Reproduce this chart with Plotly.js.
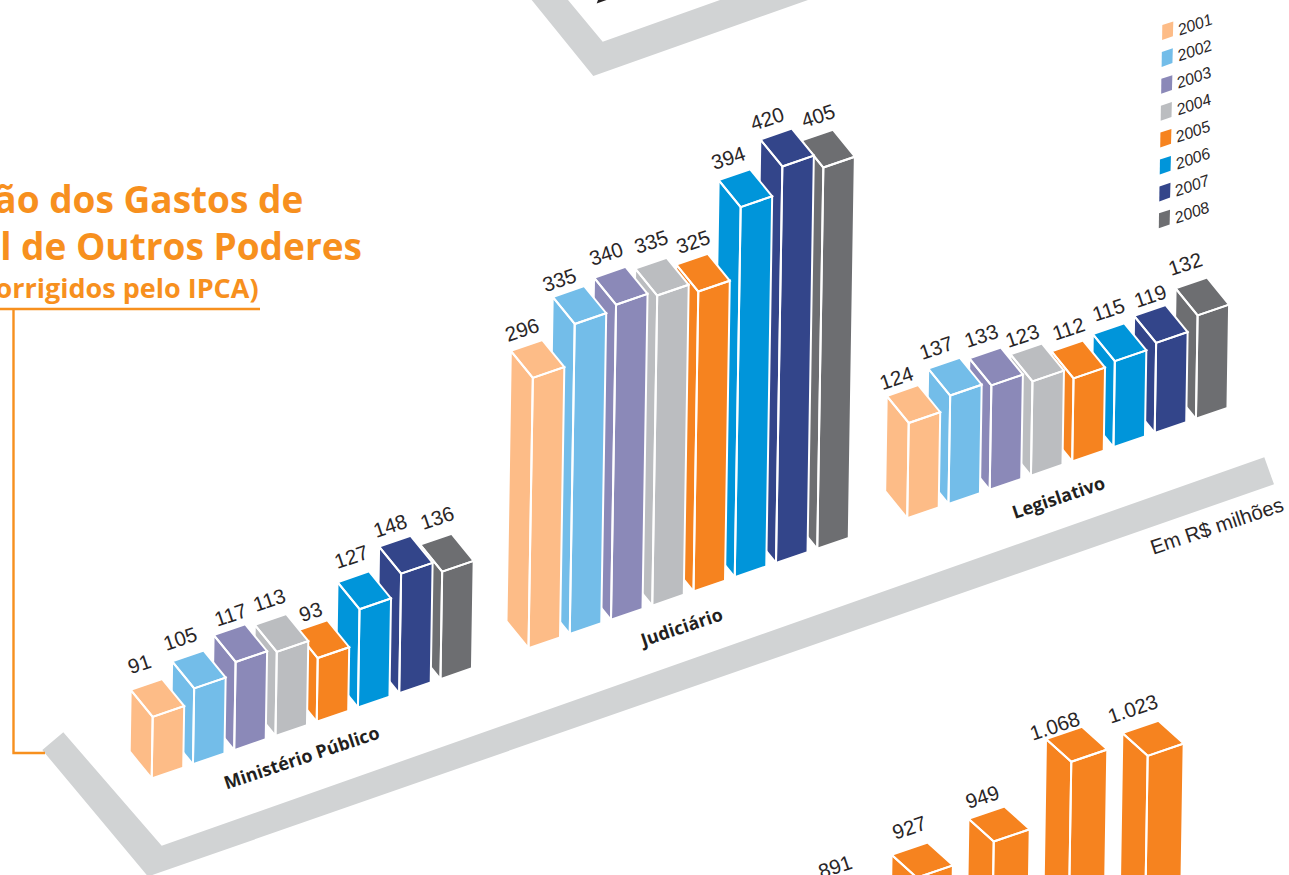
<!DOCTYPE html>
<html>
<head>
<meta charset="utf-8">
<script src="https://cdn.plot.ly/plotly-3.0.1.min.js"></script>
<style>html,body{margin:0;padding:0;background:#fff;overflow:hidden}#chart{width:1289px;height:875px}</style>
</head>
<body>
<div id="chart"></div>
<script>
// ---- data ----
const years = ['2001','2002','2003','2004','2005','2006','2007','2008'];
const ministerioPublico = [91,105,117,113,93,127,148,136];
const judiciario = [296,335,340,335,325,394,420,405];
const legislativo = [124,137,133,123,112,115,119,132];
const lowerPanelValues = [891,927,949,1068,1023];
const groupNames = ['Ministério Público','Judiciário','Legislativo'];
const yearColors = ['#FDBC87','#73BDE9','#8B89B8','#BBBDC0','#F6831F','#0095DA','#33458A','#6D6E71'];

// ---- projection constants ----
const W = 1289, H = 875;
const GREY = '#D1D3D4', ORANGE = '#F7901E', BARORANGE = '#F6831F', INK = '#2A2627';
const FONT = 'Liberation Sans, Arial, sans-serif';
const HEAVY = 'Open Sans, Liberation Sans, sans-serif';
const LEAN = 0.016, ANGLE = -18.5;
const upper = {stepX:41.25, stepY:-14.2, right:[31.5,-10.8], left:[-22,-27], scale:1.018, offset:-31};
const lower = {stepX:76.7, stepY:-26.2, right:[36,-12.3], left:[-25.3,-22.8], scale:0.45, offset:0};
const groupOrigins = [[151.7,778.5],[528.5,648.2],[907.2,518.2]];
const lowerOrigin = [833.5,1321];
const labelShift = [-6,-15.5];
const groupLabelPos = [[301.7,756.7],[680,626.7],[1058.3,496.7]];
// small hand placement of each value label, as in the original artwork
const groupLabelNudges = [
  [[-1,-5],[-2,-2],[7,0],[5,-4],[5,1],[4,-5],[1,0],[7,-6]],
  [[1,0],[-3,3],[2,-3],[6,-6],[7,-2],[0,-2],[-3,0],[7,-4]],
  [[0,2],[-2,0],[2,-2],[2,2],[7,-2],[6,-4],[7,1],[0,-4]]
];
const lowerLabelNudges = [[8,-9],[5,-6],[2,-1],[-3,8],[-2,-3]];

const traces = [], annotations = [];

function addBar(name, color, v, i, origin, g, nudge) {
  const h = g.scale * v + g.offset;
  const bx = origin[0] + i * g.stepX, by = origin[1] + i * g.stepY;
  const tx = bx + LEAN * h, ty = by - h;
  const [rx, ry] = g.right, [lx, ly] = g.left;
  const xs = [tx, tx+lx, bx+lx, bx, tx, null,
              tx, tx+rx, bx+rx, bx, tx, null,
              tx, tx+rx, tx+rx+lx, tx+lx, tx];
  const ys = [ty, ty+ly, by+ly, by, ty, null,
              ty, ty+ry, by+ry, by, ty, null,
              ty, ty+ry, ty+ry+ly, ty+ly, ty];
  traces.push({type:'scatter', mode:'lines', x:xs, y:ys, fill:'toself', fillcolor:color,
    line:{color:'#FFFFFF', width:2}, hoverinfo:'skip', showlegend:false, name:name});
  const text = v >= 1000 ? Math.floor(v/1000) + '.' + String(v % 1000).padStart(3,'0') : String(v);
  annotations.push({x: tx + lx + rx/2 + labelShift[0] + nudge[0], y: ty + ly + ry/2 + labelShift[1] + nudge[1],
    text, showarrow:false, textangle:ANGLE, xanchor:'center', yanchor:'middle',
    font:{family:FONT, size:20.5, color:INK}});
}

[ministerioPublico, judiciario, legislativo].forEach((series, g) => {
  for (let i = series.length - 1; i >= 0; i--) {
    addBar(groupNames[g] + ' ' + years[i], yearColors[i], series[i], i, groupOrigins[g], upper, groupLabelNudges[g][i]);
  }
  annotations.push({x:groupLabelPos[g][0], y:groupLabelPos[g][1], text:'<b>'+groupNames[g]+'</b>',
    showarrow:false, textangle:ANGLE, xanchor:'center', yanchor:'middle',
    font:{family:HEAVY, size:18, color:'#231F20'}});
});
for (let i = lowerPanelValues.length - 1; i >= 0; i--) {
  addBar('Painel inferior ' + i, BARORANGE, lowerPanelValues[i], i, lowerOrigin, lower, lowerLabelNudges[i]);
}

// legend
const legendX = 1162.3, legendY = 25, legendStepX = -0.47, legendStepY = 26.9;
years.forEach((yr, i) => {
  const x0 = legendX + i*legendStepX, y0 = legendY + i*legendStepY;
  traces.push({type:'scatter', mode:'lines', fill:'toself', fillcolor:yearColors[i], line:{width:0, color:yearColors[i]},
    x:[x0, x0+11, x0+10.6, x0-0.2, x0], y:[y0, y0-3.6, y0+11.2, y0+15, y0],
    hoverinfo:'skip', showlegend:false, name:yr});
  annotations.push({x:x0+32.5, y:y0-1, text:'<i>'+yr+'</i>', showarrow:false, textangle:-19,
    xanchor:'center', yanchor:'middle', font:{family:FONT, size:16, color:INK}});
});

// titles
[['Evolução dos Gastos de',304.5,198,37],['Pessoal de Outros Poderes',363.5,245,37],['(Valores corrigidos pelo IPCA)',261,287,27]]
 .forEach(([t,x,y,size]) => annotations.push({x, y, text:'<b>'+t+'</b>', showarrow:false, xanchor:'right', yanchor:'middle',
   font:{family:HEAVY, size, color:ORANGE}}));

annotations.push({x:1216.7, y:525, text:'Em R$ milhões', showarrow:false, textangle:ANGLE, xanchor:'center', yanchor:'middle',
  font:{family:FONT, size:20.5, color:INK}});

const poly = p => 'M' + p.map(q => q.join(',')).join('L') + 'Z';
const shapes = [
  {type:'path', xref:'x', yref:'y', layer:'below', fillcolor:GREY, line:{width:0},
   path:poly([[42.3,750],[63.3,732.3],[161.7,845.7],[1264.3,457.3],[1274,484.3],[148,876.5]])},
  {type:'path', xref:'x', yref:'y', layer:'below', fillcolor:GREY, line:{width:0},
   path:poly([[531.7,0],[568,0],[602.7,41.7],[720,0],[808,0],[593.3,76]])},
  {type:'path', xref:'x', yref:'y', layer:'below', fillcolor:'#231F20', line:{width:0},
   path:poly([[596.7,3.4],[606.5,0],[598,0]])},
  {type:'path', xref:'x', yref:'y', layer:'below', line:{color:ORANGE, width:2.4},
   path:'M0,309L260,309M13.5,309L13.5,753L45,753'}
];

Plotly.newPlot('chart', traces, {
  width:W, height:H, margin:{l:0,r:0,t:0,b:0}, paper_bgcolor:'#FFFFFF', plot_bgcolor:'#FFFFFF', showlegend:false,
  xaxis:{range:[0,W], visible:false, fixedrange:true},
  yaxis:{range:[H,0], visible:false, fixedrange:true},
  shapes, annotations
}, {displayModeBar:false, staticPlot:true});
</script>
</body>
</html>
